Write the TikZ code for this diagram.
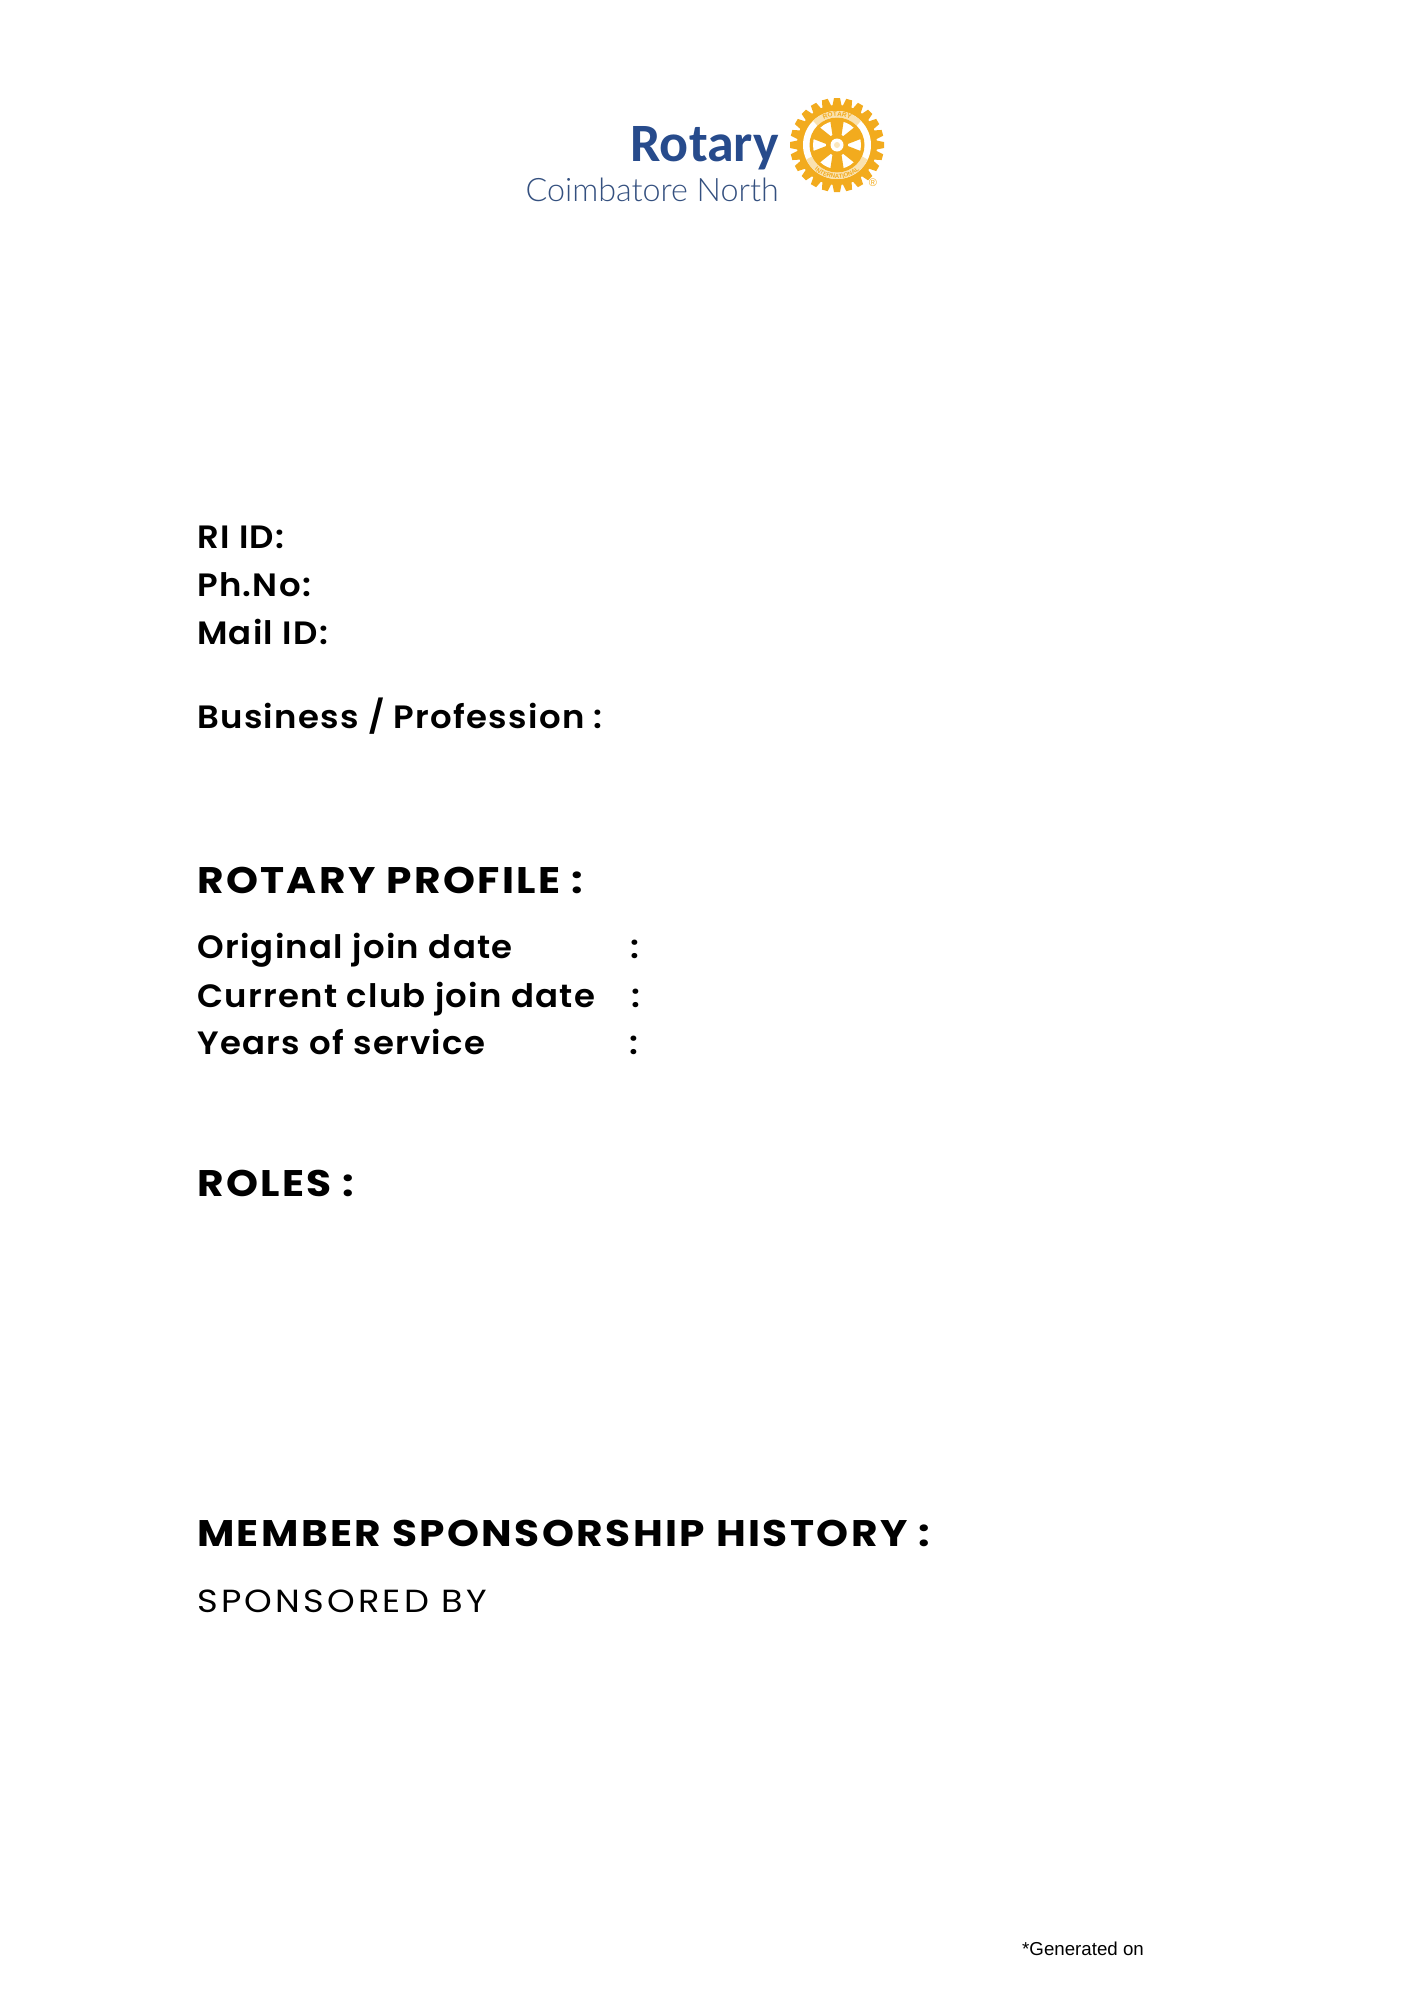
\documentclass[tikz,border=0pt]{standalone}
\usepackage{fontspec}
\usepackage{xcolor}
\usetikzlibrary{positioning,decorations.text}
\setmainfont{Poppins}
\newfontfamily\labelfont[LetterSpace=4,FakeStretch=1.05]{Poppins SemiBold}
\newfontfamily\headfont[LetterSpace=6.5,FakeStretch=1.1]{Poppins Bold}
\newfontfamily\plainfont[LetterSpace=10,FakeStretch=1.1]{Poppins}
\newfontfamily\logofont{Carlito}
\newfontfamily\clubfont{Lato Light}
\newfontfamily\notefont{Liberation Sans}
\definecolor{rotaryblue}{HTML}{274B8C}
\definecolor{clubblue}{HTML}{34507F}
\definecolor{rotarygold}{HTML}{F2AB1E}
\tikzset{
	fieldtext/.style = {anchor = base west, inner sep = 0pt, font = \labelfont\fontsize{32.3}{32.3}\selectfont},
	headtext/.style = {anchor = base west, inner sep = 0pt, font = \headfont\fontsize{37}{37}\selectfont},
	plaintext/.style = {anchor = base west, inner sep = 0pt, font = \plainfont\fontsize{32}{32}\selectfont},
	ringtext/.style = {decorate, decoration = {text along path, text align = center, text = {#1}}},
	ringpatch/.style = {draw = rotarygold!35, line width = 6.5pt}
}
\begin{document}
\begin{tikzpicture}[x = 1pt, y = -1pt]
\useasboundingbox (0, 0) rectangle (1414, 2000);
% logo
\node[anchor = base east, inner sep = 0pt, text = rotaryblue, font = \logofont\bfseries\fontsize{54}{54}\selectfont] (rotary) at (779, 161) {Rotary};
\node[anchor = base east, inner sep = 0pt, text = clubblue, font = \clubfont\fontsize{32.3}{32.3}\selectfont] (club) at (779, 201) {Coimbatore North};
\begin{scope}[shift = {(837, 145)}]
\foreach \a in {0, 15, ..., 345}
	\fill[rotarygold, rotate = \a] (-5, -37) -- (-3, -47) -- (3, -47) -- (5, -37) -- cycle;
\fill[rotarygold] (0, 0) circle (40);
\fill[white] (0, 0) circle (34);
\draw[ringpatch] (225:30.75) arc[start angle = 225, end angle = 315, radius = 30.75];
\draw[ringpatch] (155:30.75) arc[start angle = 155, end angle = 25, radius = 30.75];
\fill[rotarygold] (0, 0) circle (27.5);
\fill[white] (0, 0) circle (24);
\foreach \a in {0, 60, ..., 300}
	\fill[rotarygold, rotate = \a] (-3, 0) -- (-7, -26) -- (7, -26) -- (3, 0) -- cycle;
\fill[rotarygold] (0, 0) circle (11);
\fill[white] (0, 0) circle (6.5);
\fill[rotarygold!30] (0, 0) circle (3);
\path[ringtext = {|\notefont\bfseries\fontsize{6.5}{6.5}\selectfont\color{rotarygold}|ROTARY}] (180:28.5) arc[start angle = 180, end angle = 360, radius = 28.5];
\path[ringtext = {|\notefont\bfseries\fontsize{6}{6}\selectfont\color{rotarygold}|INTERNATIONAL}] (180:33.5) arc[start angle = 180, end angle = 0, radius = 33.5];
\end{scope}
\node[inner sep = 0pt, text = rotarygold, font = \notefont\fontsize{11}{11}\selectfont] (regmark) at (873, 183) {®};
% details
\node[fieldtext] (riid) at (197, 548) {RI ID:};
\node[fieldtext] (phone) at (197, 596) {Ph.No:};
\node[fieldtext] (mail) at (197, 644) {Mail ID:};
\node[fieldtext] (business) at (197, 728) {Business / Profession :};
% rotary profile
\node[headtext] (profile) at (197, 893) {ROTARY PROFILE :};
\node[fieldtext] (joined) at (197, 958) {Original join date};
\node[fieldtext] (joinedcolon) at (630, 958) {:};
\node[fieldtext] (current) at (197, 1007) {Current club join date};
\node[fieldtext] (currentcolon) at (631, 1007) {:};
\node[fieldtext] (years) at (197, 1054) {Years of service};
\node[fieldtext] (yearscolon) at (629, 1054) {:};
% roles and history
\node[headtext] (roles) at (197, 1196) {ROLES :};
\node[headtext] (history) at (197, 1546) {MEMBER SPONSORSHIP HISTORY :};
\node[plaintext] (sponsored) at (197, 1612) {SPONSORED BY};
\node[anchor = base west, inner sep = 0pt, font = \notefont\fontsize{18.7}{18.7}\selectfont] (generated) at (1022, 1955) {*Generated on};
\end{tikzpicture}
\end{document}
